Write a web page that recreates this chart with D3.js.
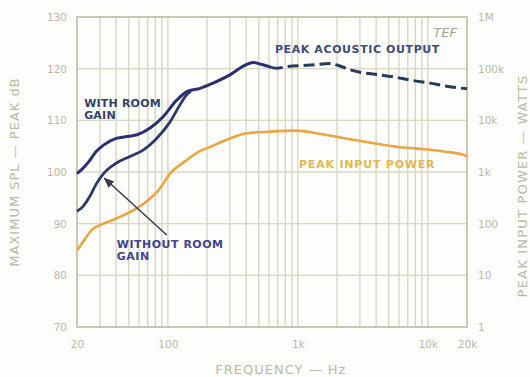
<!DOCTYPE html>
<html>
<head>
<meta charset="utf-8">
<script src="https://cdn.jsdelivr.net/npm/d3@7"></script>
<style>
  html, body { margin: 0; padding: 0; background: #fdfdfb; }
  svg { display: block; font-family: "DejaVu Sans", sans-serif; }
  .tick text { fill: #bcb9a4; font-size: 10.5px; }
</style>
</head>
<body>
<svg id="chart" width="530" height="377"></svg>
<script>
// frequency (Hz), level (dB)
const withRoomGain = [
  [20, 99.7], [22, 100.6], [25, 102.2], [28, 103.9], [32, 105.2], [40, 106.5], [50, 106.9],
  [58, 107.2], [73, 108.5], [92, 110.7], [117, 113.9], [139, 115.5], [177, 116.2],
  [222, 117.2], [300, 118.8], [380, 120.5], [454, 121.2], [530, 120.8], [630, 120.2]
];
const withoutRoomGain = [
  [20, 92.4], [22, 93.2], [25, 95.2], [28, 97.6], [32, 99.7], [40, 101.7], [51, 103],
  [65, 104.3], [82, 106.5], [104, 109.7], [124, 113], [139, 114.9], [150, 115.6]
];
const peakOutputHigh = [
  [630, 120.2], [700, 120.1], [820, 120.4], [1240, 120.7], [1770, 121], [2000, 120.7],
  [2520, 119.8], [3000, 119.3], [4290, 118.8], [5500, 118.4], [7280, 117.8],
  [10400, 117.2], [14000, 116.6], [20000, 116.1]
];
const peakInput = [
  [20, 84.8], [23, 87], [26, 88.8], [30, 89.7], [40, 91], [58, 93], [70, 94.5], [85, 96.5],
  [104, 99.7], [140, 102.3], [177, 104.1], [200, 104.6], [300, 106.5], [404, 107.5],
  [600, 107.8], [976, 108], [1400, 107.5], [1990, 106.8], [3180, 105.9], [5740, 104.9],
  [10400, 104.3], [15000, 103.8], [19000, 103.3], [20000, 102.9]
];

const gridFreqs = [20, 30, 40, 50, 60, 70, 80, 90, 100, 200, 300, 400, 500, 600, 700, 800, 900,
  1000, 2000, 3000, 4000, 5000, 6000, 7000, 8000, 9000, 10000, 20000];
const gridLevels = [70, 80, 90, 100, 110, 120, 130];
const freqTicks = [20, 100, 1000, 10000, 20000];
const freqTickLabels = ["20", "100", "1k", "10k", "20k"];
const wattTicks = [1, 10, 100, 1e3, 1e4, 1e5, 1e6];
const wattTickLabels = ["1", "10", "100", "1k", "10k", "100k", "1M"];

// annotation arrow: tail -> tip (Hz, dB)
const arrowPts = [[98, 87.8], [32.5, 98.8]];

const margin = {top: 17, right: 63, bottom: 50, left: 77};
const width = 530 - margin.left - margin.right,
  height = 377 - margin.top - margin.bottom;

const svg = d3.select("#chart");
const g = svg.append("g").attr("transform", `translate(${margin.left},${margin.top})`);

const x = d3.scaleLog().domain([20, 20000]).range([0, width]);
const y = d3.scaleLinear().domain([70, 130]).range([height, 0]);
const yW = d3.scaleLog().domain([1, 1e6]).range([height, 0]);

const gridColor = "#d8d7c4";

// grid
g.selectAll(".vgrid").data(gridFreqs).join("line")
  .attr("x1", d => x(d)).attr("x2", d => x(d))
  .attr("y1", 0).attr("y2", height)
  .attr("stroke", gridColor).attr("stroke-width", 1.4);
g.selectAll(".hgrid").data(gridLevels).join("line")
  .attr("x1", 0).attr("x2", width)
  .attr("y1", d => y(d)).attr("y2", d => y(d))
  .attr("stroke", gridColor).attr("stroke-width", 1.4);
g.append("rect")
  .attr("width", width).attr("height", height)
  .attr("fill", "none").attr("stroke", "#c9c8b2").attr("stroke-width", 2);

// axes
const leftAx = g.append("g")
  .call(d3.axisLeft(y).tickValues(gridLevels).tickSize(0).tickPadding(10));
const rightAx = g.append("g").attr("transform", `translate(${width},0)`)
  .call(d3.axisRight(yW).tickValues(wattTicks).tickSize(0).tickPadding(11)
    .tickFormat((d, i) => wattTickLabels[i]));
const bottomAx = g.append("g").attr("transform", `translate(0,${height})`)
  .call(d3.axisBottom(x).tickValues(freqTicks).tickSize(0).tickPadding(14)
    .tickFormat((d, i) => freqTickLabels[i]));
[leftAx, rightAx, bottomAx].forEach(a => a.select(".domain").remove());
[leftAx, rightAx, bottomAx].forEach(a => a.selectAll("text").attr("font-family", "DejaVu Sans"));
rightAx.selectAll("text").attr("font-size", 9.5);

// axis titles
const titleColor = "#bcb9a4";
svg.append("text")
  .attr("transform", `translate(19,${margin.top + height / 2}) rotate(-90)`)
  .attr("text-anchor", "middle").attr("fill", titleColor)
  .attr("font-size", 13).attr("letter-spacing", 1)
  .text("MAXIMUM SPL — PEAK dB");
svg.append("text")
  .attr("transform", `translate(527,${margin.top + height / 2 + 14}) rotate(-90)`)
  .attr("text-anchor", "middle").attr("fill", titleColor)
  .attr("font-size", 13).attr("letter-spacing", 1.2)
  .text("PEAK INPUT POWER — WATTS");
svg.append("text")
  .attr("x", margin.left + x(1000) - 17).attr("y", 374)
  .attr("text-anchor", "middle").attr("fill", titleColor)
  .attr("font-size", 13).attr("letter-spacing", 1)
  .text("FREQUENCY — Hz");

// curves
const line = d3.line()
  .x(d => x(d[0])).y(d => y(d[1]))
  .curve(d3.curveMonotoneX);

const navy = "#2b3170";
g.append("path").datum(peakInput)
  .attr("d", line).attr("fill", "none")
  .attr("stroke", "#e9a743").attr("stroke-width", 2.6);
g.append("path").datum(withoutRoomGain)
  .attr("d", line).attr("fill", "none")
  .attr("stroke", "#2d3a66").attr("stroke-width", 2.8);
g.append("path").datum(withRoomGain)
  .attr("d", line).attr("fill", "none")
  .attr("stroke", navy).attr("stroke-width", 3);
g.append("path").datum(peakOutputHigh)
  .attr("d", line).attr("fill", "none")
  .attr("stroke", "#263b5e").attr("stroke-width", 3)
  .attr("stroke-dasharray", "11,5");

// arrow
svg.append("defs").append("marker")
  .attr("id", "head").attr("viewBox", "0 0 10 10")
  .attr("refX", 9).attr("refY", 5)
  .attr("markerWidth", 7).attr("markerHeight", 7)
  .attr("orient", "auto")
  .append("path").attr("d", "M0,1 L10,5 L0,9 Z").attr("fill", "#3a3a4a");
g.append("line")
  .attr("x1", x(arrowPts[0][0])).attr("y1", y(arrowPts[0][1]))
  .attr("x2", x(arrowPts[1][0])).attr("y2", y(arrowPts[1][1]))
  .attr("stroke", "#3a3a4a").attr("stroke-width", 1.5)
  .attr("marker-end", "url(#head)");

// labels
function label(lines, f, db, color, spacing) {
  const t = g.append("text")
    .attr("x", x(f)).attr("y", y(db))
    .attr("fill", color).attr("font-size", 11).attr("font-weight", "bold")
    .attr("letter-spacing", spacing);
  lines.forEach((s, i) => t.append("tspan")
    .attr("x", x(f)).attr("dy", i ? 12.5 : 0).text(s));
}
label(["WITH ROOM", "GAIN"], 22.7, 112.6, "#34426e", 0.2);
label(["WITHOUT ROOM", "GAIN"], 40.5, 85.3, "#45438a", 0.5);
label(["PEAK ACOUSTIC OUTPUT"], 666, 123.0, "#3e4b78", 0.6);
label(["PEAK INPUT POWER"], 1020, 100.8, "#e1b84c", 0.8);

g.append("text")
  .attr("x", width - 10).attr("y", 20)
  .attr("text-anchor", "end").attr("fill", "#a3a39a")
  .attr("font-size", 13).attr("font-style", "italic")
  .text("TEF");
</script>
</body>
</html>
